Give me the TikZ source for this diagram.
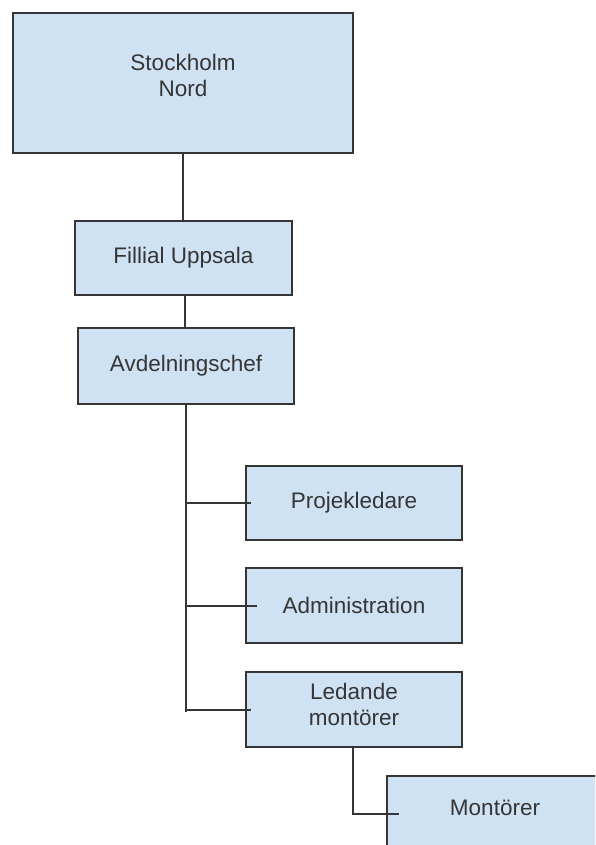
\documentclass[tikz,border=0pt]{standalone}
\usepackage{fontspec}
\setmainfont{Liberation Sans}
\definecolor{boxfill}{HTML}{CFE2F3}
\definecolor{boxline}{HTML}{353535}

\begin{document}
\begin{tikzpicture}[x=1pt, y=-1pt,
	every node/.style={font=\fontsize{22.5}{26}\selectfont, text=boxline},
	orgbox/.style={draw=boxline, line width=2.6pt, fill=boxfill, align=center, minimum width=216pt, minimum height=75pt, inner sep=0pt},
	link/.style={draw=boxline, line width=2pt}]
	\clip (0,0) rectangle (595,845);
	\node[orgbox, minimum width=340pt, minimum height=140pt, text depth=16pt] (sthlm) at (183,83) {Stockholm\\Nord};
	\node[orgbox, minimum width=217pt, minimum height=74pt] (uppsala) at (183.5,258) {Fillial Uppsala};
	\node[orgbox, minimum height=76pt] (chef) at (186,366) {Avdelningschef};
	\node[orgbox, minimum height=74pt] (proj) at (354,503) {Projekledare};
	\node[orgbox] (admin) at (354,605.5) {Administration};
	\node[orgbox, text depth=10pt] (ledande) at (354,709.5) {Ledande\\mont\"orer};
	\node[orgbox, minimum height=76pt, text depth=12pt] (mont) at (495,814) {Mont\"orer};
	\coordinate (busend) at (chef.south |- 0,712);
	\draw[link] (sthlm.south) -- (sthlm.south |- uppsala.north);
	\draw[link] ([xshift=1.5pt]uppsala.south) -- ([xshift=1.5pt]uppsala.south |- chef.north);
	\draw[link] (chef.south) -- (busend);
	\draw[link] (busend |- proj.west) -- ([xshift=6pt]proj.west);
	\draw[link] (busend |- admin.west) -- ([xshift=12pt]admin.west);
	\draw[link] (busend |- ledande.west) -- ([xshift=6pt]ledande.west);
	\draw[link] ([xshift=-1.5pt]ledande.south) |- ([xshift=13pt]mont.west);
\end{tikzpicture}
\end{document}
